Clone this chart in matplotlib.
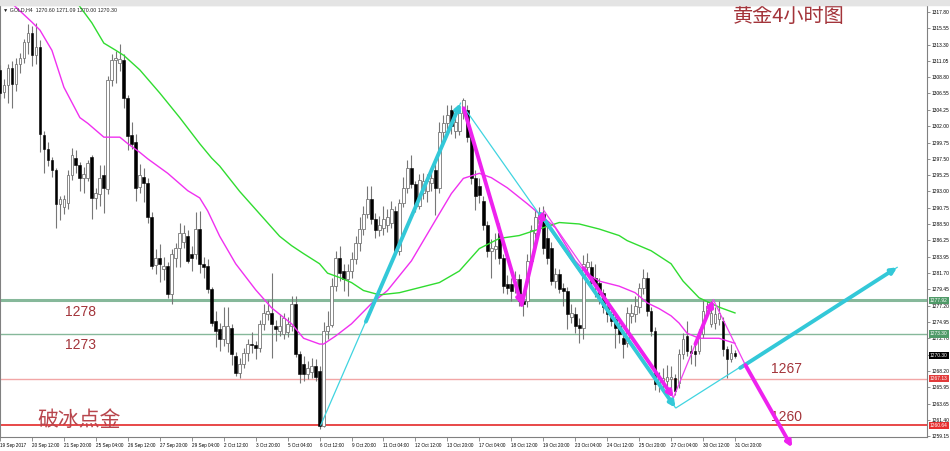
import numpy as np
import matplotlib
matplotlib.use("Agg")
import matplotlib.pyplot as plt
from matplotlib.transforms import blended_transform_factory

# GOLD H4 candles (open, high, low, close)
opens = [1309.8, 1306.7, 1307.7, 1310.1, 1307.9, 1310.6, 1311.5, 1313.6, 1314.9, 1311.8,
         1312.9, 1300.8, 1298.9, 1297.3, 1295.9, 1291.3, 1290.8, 1291.4, 1295.2, 1297.6,
         1296.6, 1294.8, 1294.9, 1297.7, 1292.1, 1292.7, 1295.2, 1293.4, 1308.4, 1311.1,
         1310.7, 1311.2, 1305.9, 1300.8, 1299.8, 1293.6, 1295.0, 1294.1, 1289.4, 1282.8,
         1283.8, 1282.3, 1282.7, 1278.8, 1283.8, 1285.2, 1286.0, 1286.9, 1284.4, 1284.4,
         1287.8, 1282.9, 1282.7, 1279.5, 1275.1, 1274.0, 1272.6, 1272.0, 1274.1, 1270.2,
         1267.9, 1269.1, 1270.6, 1271.9, 1271.8, 1271.3, 1274.7, 1276.1, 1276.2, 1274.4,
         1273.7, 1273.3, 1273.6, 1274.4, 1277.5, 1270.5, 1269.1, 1267.8, 1268.0, 1268.8,
         1268.2, 1260.6, 1273.7, 1274.6, 1279.9, 1283.8, 1282.0, 1280.9, 1282.0, 1283.7,
         1285.8, 1287.8, 1289.9, 1292.0, 1289.2, 1287.6, 1288.0, 1288.4, 1288.6, 1290.3,
         1284.8, 1291.4, 1293.5, 1296.3, 1294.0, 1291.0, 1292.8, 1293.1, 1294.1, 1295.9,
         1293.5, 1301.2, 1302.4, 1304.2, 1301.4, 1301.4, 1303.8, 1304.2, 1300.5, 1294.9,
         1293.8, 1291.7, 1288.3, 1284.8, 1285.0, 1287.2, 1283.8, 1280.2, 1280.2, 1280.2,
         1280.9, 1277.9, 1277.8, 1283.4, 1287.2, 1288.6, 1289.9, 1286.5, 1285.2, 1280.6,
         1281.6, 1279.6, 1279.2, 1275.6, 1276.1, 1274.6, 1274.1, 1282.6, 1282.6, 1281.0,
         1280.4, 1279.0, 1277.0, 1276.1, 1275.4, 1274.4, 1272.7, 1272.0, 1275.8, 1276.1,
         1277.0, 1279.6, 1281.0, 1276.5, 1273.7, 1266.5, 1266.8, 1266.8, 1267.0, 1267.2,
         1266.5, 1270.5, 1273.0, 1271.0, 1271.0, 1271.0, 1273.3, 1276.1, 1274.7, 1274.8,
         1275.4, 1275.1, 1271.2, 1269.8, 1270.6]
highs = [1310.5, 1308.6, 1310.6, 1311.0, 1311.4, 1312.2, 1314.1, 1316.1, 1315.8, 1316.3,
         1314.0, 1301.4, 1299.8, 1297.8, 1296.3, 1292.4, 1292.5, 1296.0, 1299.0, 1298.7,
         1297.0, 1296.4, 1297.3, 1298.0, 1293.5, 1296.6, 1296.6, 1309.0, 1312.0, 1312.4,
         1313.4, 1312.0, 1306.3, 1302.6, 1301.0, 1296.8, 1296.3, 1294.8, 1290.2, 1285.0,
         1285.7, 1284.0, 1283.2, 1285.1, 1285.8, 1288.7, 1288.3, 1287.6, 1285.5, 1290.1,
         1290.3, 1284.0, 1283.6, 1279.8, 1276.5, 1274.8, 1277.0, 1277.0, 1274.7, 1270.8,
         1270.0, 1271.4, 1272.6, 1273.5, 1272.3, 1275.2, 1277.5, 1278.0, 1281.7, 1275.2,
         1276.0, 1276.2, 1275.6, 1278.6, 1278.6, 1271.0, 1270.2, 1269.5, 1270.0, 1269.8,
         1268.8, 1275.0, 1276.5, 1281.0, 1284.8, 1285.5, 1282.9, 1283.0, 1284.6, 1286.8,
         1289.4, 1291.0, 1293.8, 1293.8, 1290.0, 1289.6, 1291.0, 1290.5, 1291.7, 1291.0,
         1292.0, 1295.0, 1297.3, 1298.0, 1294.5, 1295.4, 1295.5, 1295.4, 1296.0, 1297.0,
         1302.6, 1303.5, 1304.9, 1305.0, 1303.5, 1304.4, 1305.9, 1305.0, 1301.0, 1296.0,
         1294.8, 1292.4, 1288.9, 1286.4, 1287.2, 1288.7, 1284.4, 1281.5, 1281.0, 1282.0,
         1281.6, 1278.6, 1284.4, 1288.4, 1290.4, 1290.8, 1291.0, 1288.2, 1286.0, 1282.4,
         1282.3, 1280.3, 1279.8, 1277.5, 1277.0, 1275.5, 1284.2, 1284.5, 1283.4, 1283.0,
         1281.0, 1279.5, 1277.5, 1276.5, 1276.0, 1275.2, 1273.5, 1277.0, 1277.4, 1278.6,
         1280.4, 1282.3, 1281.8, 1277.0, 1274.2, 1268.0, 1268.6, 1269.0, 1268.8, 1267.8,
         1271.2, 1273.4, 1275.1, 1271.8, 1272.4, 1274.0, 1278.0, 1277.9, 1277.9, 1277.0,
         1277.9, 1275.6, 1271.6, 1271.9, 1271.09]
lows = [1305.8, 1305.9, 1305.2, 1304.6, 1306.9, 1309.4, 1310.8, 1312.0, 1310.3, 1310.6,
        1298.4, 1295.6, 1296.5, 1295.0, 1288.0, 1289.0, 1289.9, 1290.6, 1294.6, 1295.5,
        1293.1, 1292.8, 1294.5, 1289.2, 1290.6, 1291.0, 1290.0, 1292.6, 1307.6, 1308.0,
        1309.6, 1304.6, 1298.7, 1298.9, 1291.7, 1292.8, 1291.5, 1288.7, 1282.3, 1281.6,
        1280.5, 1280.8, 1278.3, 1277.5, 1282.5, 1282.5, 1285.2, 1283.1, 1282.0, 1283.7,
        1281.7, 1281.0, 1279.0, 1274.4, 1271.5, 1271.0, 1271.6, 1270.8, 1269.0, 1267.5,
        1267.2, 1268.6, 1269.6, 1270.6, 1269.8, 1270.8, 1273.9, 1275.2, 1270.0, 1272.3,
        1273.0, 1272.6, 1272.9, 1273.7, 1270.1, 1266.5, 1266.8, 1267.0, 1267.2, 1266.8,
        1260.2, 1260.4, 1272.6, 1274.2, 1279.2, 1280.6, 1279.2, 1278.6, 1281.0, 1283.0,
        1284.8, 1287.0, 1289.3, 1288.5, 1286.6, 1286.8, 1287.0, 1287.4, 1287.9, 1284.3,
        1284.2, 1290.8, 1292.8, 1293.5, 1290.2, 1290.5, 1292.0, 1291.6, 1293.0, 1289.8,
        1292.8, 1300.0, 1301.6, 1301.0, 1300.4, 1300.8, 1303.0, 1299.8, 1294.0, 1290.4,
        1291.4, 1287.6, 1284.0, 1281.0, 1283.6, 1283.0, 1279.0, 1278.8, 1277.8, 1279.0,
        1277.2, 1275.8, 1277.0, 1282.8, 1286.5, 1287.4, 1284.4, 1283.0, 1280.0, 1279.6,
        1279.0, 1277.2, 1274.0, 1274.8, 1273.4, 1272.0, 1272.6, 1281.8, 1279.6, 1278.4,
        1277.5, 1276.2, 1275.0, 1274.4, 1271.4, 1272.0, 1270.0, 1271.5, 1274.8, 1275.0,
        1276.2, 1278.8, 1275.8, 1273.0, 1265.5, 1265.3, 1265.8, 1265.4, 1265.2, 1264.9,
        1265.8, 1269.8, 1270.2, 1269.2, 1268.9, 1270.5, 1272.8, 1275.6, 1274.2, 1274.0,
        1274.6, 1270.3, 1267.2, 1269.4, 1270.0]
closes = [1306.6, 1307.7, 1310.0, 1307.8, 1310.6, 1311.5, 1313.6, 1314.9, 1311.8, 1312.9,
          1301.0, 1298.9, 1297.3, 1295.9, 1291.3, 1291.9, 1292.0, 1295.2, 1298.0, 1296.6,
          1294.9, 1295.4, 1296.9, 1292.1, 1292.8, 1294.9, 1293.5, 1308.4, 1311.1, 1311.5,
          1311.3, 1305.9, 1300.7, 1299.6, 1293.5, 1295.2, 1294.1, 1289.4, 1282.7, 1283.8,
          1283.0, 1282.7, 1278.8, 1284.4, 1285.2, 1287.3, 1287.2, 1283.4, 1283.8, 1287.8,
          1282.9, 1282.6, 1279.5, 1274.8, 1273.7, 1272.6, 1274.4, 1274.4, 1270.5, 1267.9,
          1269.1, 1270.6, 1271.9, 1271.7, 1271.3, 1274.7, 1276.2, 1276.4, 1274.7, 1274.0,
          1274.4, 1275.5, 1274.7, 1277.5, 1270.5, 1267.8, 1267.8, 1268.6, 1268.9, 1267.3,
          1260.6, 1273.7, 1274.4, 1279.9, 1283.8, 1281.7, 1280.9, 1282.0, 1283.7, 1285.8,
          1287.8, 1289.9, 1292.0, 1289.2, 1287.6, 1288.3, 1289.2, 1289.5, 1290.6, 1284.8,
          1291.4, 1293.5, 1296.2, 1294.0, 1291.0, 1294.6, 1294.5, 1294.5, 1294.8, 1293.5,
          1301.2, 1302.4, 1303.5, 1302.1, 1302.6, 1303.8, 1305.6, 1300.5, 1294.9, 1292.4,
          1292.5, 1288.3, 1284.8, 1285.2, 1285.5, 1283.8, 1279.9, 1279.7, 1279.3, 1280.9,
          1277.9, 1277.5, 1283.4, 1287.6, 1289.4, 1289.9, 1285.2, 1283.8, 1280.6, 1281.6,
          1279.5, 1279.2, 1276.0, 1276.2, 1274.4, 1274.1, 1283.0, 1283.2, 1280.4, 1280.0,
          1278.8, 1277.0, 1276.1, 1275.1, 1274.1, 1273.3, 1271.9, 1276.2, 1276.2, 1277.2,
          1279.6, 1281.0, 1276.5, 1273.7, 1266.4, 1267.2, 1267.2, 1267.4, 1267.4, 1265.4,
          1270.5, 1272.6, 1271.0, 1270.7, 1270.5, 1273.3, 1276.5, 1277.2, 1276.2, 1276.1,
          1276.2, 1271.2, 1269.8, 1270.6, 1270.3]

# moving averages sampled along the curves (bar index, price)
fast_ma_bar = [2, 8, 10, 13, 16, 20, 22, 26, 30, 32, 35, 37, 42, 47, 50, 52, 55, 59, 64, 68,
               73, 76, 80, 81, 84, 88, 93, 97, 103, 109, 113, 116, 120, 123, 127, 132, 135,
               139, 144, 147, 150, 155, 159, 162, 165, 168, 170, 172, 175, 180, 184]
fast_ma_val = [1319.5, 1316.4, 1315.3, 1312.5, 1307.4, 1303.2, 1302.4, 1300.5, 1300.5, 1299.6,
               1298.4, 1297.5, 1295.5, 1293.1, 1292.1, 1290.3, 1286.8, 1283.0, 1279.4, 1276.9,
               1274.7, 1272.7, 1271.9, 1271.9, 1273.0, 1274.7, 1277.5, 1279.3, 1283.4, 1289.0,
               1292.7, 1294.8, 1295.5, 1294.9, 1293.5, 1291.3, 1289.9, 1288.0, 1283.4, 1281.6,
               1280.6, 1279.9, 1279.0, 1277.6, 1276.8, 1275.8, 1274.8, 1273.4, 1272.7, 1272.7,
               1272.0]
slow_ma_bar = [19, 23, 26, 29, 31, 35, 40, 45, 50, 53, 55, 60, 65, 70, 73, 76, 80, 82, 85, 88,
               91, 95, 100, 105, 110, 115, 120, 125, 130, 135, 140, 145, 150, 155, 157, 163,
               168, 171, 175, 180, 184]
slow_ma_val = [1319.3, 1316.3, 1313.5, 1312.5, 1311.8, 1309.8, 1306.6, 1303.2, 1299.6, 1297.6,
               1296.5, 1293.0, 1289.9, 1286.8, 1285.5, 1284.4, 1283.0, 1281.7, 1281.1, 1280.4,
               1279.3, 1278.7, 1279.0, 1279.7, 1280.4, 1282.0, 1285.1, 1286.5, 1286.9, 1287.8,
               1288.7, 1288.5, 1287.8, 1286.9, 1286.2, 1284.8, 1283.0, 1280.6, 1278.3, 1277.0,
               1276.2]

# hand-drawn trend lines (bar index, price)
cyan_thin = [([80.3, 115.3], [1260.7, 1305.2]),
             ([116.3, 169.1], [1304.5, 1263.1]),
             ([169.3, 224.6], [1263.1, 1282.5])]
cyan_thick = [([91.6, 115.3], [1275.0, 1305.2]),
              ([135.3, 169.1], [1289.9, 1263.1]),
              ([185.3, 224.6], [1268.6, 1282.5])]
magenta_thin = [([136.1, 168.6], [1290.4, 1264.5]),
                ([168.6, 178.6], [1264.5, 1278.0]),
                ([178.6, 186.6], [1278.0, 1269.0])]
magenta_thick = [([116.1, 130.6], [1304.5, 1277.3]),
                 ([130.6, 136.1], [1277.3, 1290.4]),
                 ([146.1, 168.6], [1282.4, 1264.5]),
                 ([174.1, 178.6], [1271.9, 1278.0]),
                 ([186.6, 198.3], [1269.0, 1257.6])]

# horizontal levels
level_prices = [1277.92, 1273.30, 1267.13, 1260.64]
level_labels = ["1277.92", "1273.30", "1267.13", "1260.64"]
last_price = 1270.30

price_ticks = [1317.80, 1315.55, 1313.30, 1311.05, 1308.80, 1306.55, 1304.25, 1302.00,
               1299.75, 1297.50, 1295.25, 1293.00, 1290.75, 1288.50, 1286.25, 1283.95,
               1281.70, 1279.45, 1277.20, 1274.95, 1272.70, 1270.40, 1268.20, 1265.95,
               1263.65, 1261.40, 1259.15]
date_labels = ["19 Sep 2017", "20 Sep 12:00", "21 Sep 20:00", "25 Sep 04:00", "26 Sep 12:00",
               "27 Sep 20:00", "29 Sep 04:00", "2 Oct 12:00", "3 Oct 20:00", "5 Oct 04:00",
               "6 Oct 12:00", "9 Oct 20:00", "11 Oct 04:00", "12 Oct 12:00", "13 Oct 20:00",
               "17 Oct 04:00", "18 Oct 12:00", "19 Oct 20:00", "23 Oct 04:00", "24 Oct 12:00",
               "25 Oct 20:00", "27 Oct 04:00", "30 Oct 12:00", "31 Oct 20:00"]

plt.rcParams["font.family"] = ["Liberation Sans", "DejaVu Sans"]
cjk = ["Noto Sans CJK SC", "DejaVu Sans"]

fig = plt.figure(figsize=(9.5, 4.51), dpi=100)
fig.patches.append(plt.Rectangle((0, 446 / 451), 1, 5 / 451, transform=fig.transFigure,
                                 color="#e4e4e4", zorder=0))
ax = fig.add_axes([0, 14 / 451, 927 / 950, 432 / 451])

o = np.array(opens)
h = np.array(highs)
l = np.array(lows)
c = np.array(closes)
idx = np.arange(len(o))
up = c >= o

ax.vlines(idx, l, h, color="#777777", lw=0.8, zorder=3)
ax.bar(idx[up], np.maximum(c[up] - o[up], 0.05), bottom=o[up], width=0.7,
       color="white", edgecolor="#777777", lw=0.6, zorder=4)
ax.bar(idx[~up], o[~up] - c[~up], bottom=c[~up], width=0.7,
       color="black", edgecolor="black", lw=0.4, zorder=4)

ax.plot(fast_ma_bar, fast_ma_val, color="#f030f0", lw=1, zorder=5)
ax.plot(slow_ma_bar, slow_ma_val, color="#30dc30", lw=1, zorder=5)

ax.axhline(level_prices[0], color="#86b89a", lw=2.2, zorder=2)
ax.axhline(level_prices[1], color="#86b89a", lw=1, zorder=2)
ax.axhline(level_prices[2], color="#f2a6a6", lw=1, zorder=2)
ax.axhline(level_prices[3], color="#e84848", lw=1.4, zorder=2)

for xs, ys in cyan_thin:
    ax.plot(xs, ys, color="#40d4e0", lw=0.9, zorder=6)
for xs, ys in magenta_thin:
    ax.plot(xs, ys, color="#f040f0", lw=0.9, zorder=6)
for xs, ys in cyan_thick:
    ax.annotate("", xy=(xs[1], ys[1]), xytext=(xs[0], ys[0]), annotation_clip=False,
                arrowprops=dict(arrowstyle="-|>", color="#33c8d8", lw=2.8, mutation_scale=8,
                                shrinkA=0, shrinkB=0), zorder=7)
for xs, ys in magenta_thick:
    ax.annotate("", xy=(xs[1], ys[1]), xytext=(xs[0], ys[0]), annotation_clip=False,
                arrowprops=dict(arrowstyle="-|>", color="#ee22ee", lw=2.8, mutation_scale=8,
                                shrinkA=0, shrinkB=0), zorder=7)

ax.set_xlim(0.325, 232.07)
ax.set_ylim(1259.05, 1318.77)

ax.yaxis.tick_right()
ax.set_yticks(price_ticks)
ax.set_yticklabels([f"{v:.2f}" for v in price_ticks])
ax.tick_params(axis="y", length=2, width=0.5, color="#666666", pad=1, labelsize=3.5)
ax.set_xticks(range(0, 8 * len(date_labels), 8))
ax.set_xticklabels(date_labels, ha="left")
ax.tick_params(axis="x", length=3, width=0.5, color="#666666", pad=1.5, labelsize=3.3)
for s in ax.spines.values():
    s.set_color("#808080")
    s.set_linewidth(0.8)
ax.spines["top"].set_linewidth(1.5)

tr = blended_transform_factory(ax.transAxes, ax.transData)
box_colors = ["#4f9a68", "#4f9a68", "#e23a3a", "#e62e2e"]
for p, lab, col in zip(level_prices, level_labels, box_colors):
    ax.text(1.003, p, lab, transform=tr, ha="left", va="center", fontsize=3.5, color="white",
            bbox=dict(boxstyle="square,pad=0.25", fc=col, ec="none"), clip_on=False, zorder=8)
ax.text(1.003, last_price, f"{last_price:.2f}", transform=tr, ha="left", va="center",
        fontsize=3.5, color="white", bbox=dict(boxstyle="square,pad=0.25", fc="black", ec="none"),
        clip_on=False, zorder=8)

red = "#a3343a"
ax.text(0.0863, 0.289, "1278", transform=ax.transAxes, ha="center", va="center",
        fontsize=10, color=red)
ax.text(0.0863, 0.213, "1273", transform=ax.transAxes, ha="center", va="center",
        fontsize=10, color=red)
ax.text(0.848, 0.157, "1267", transform=ax.transAxes, ha="center", va="center",
        fontsize=10, color=red)
ax.text(0.848, 0.046, "1260", transform=ax.transAxes, ha="center", va="center",
        fontsize=10, color=red)
ax.text(0.0852, 0.04, "破冰点金", transform=ax.transAxes, ha="center", va="center",
        fontsize=15, color="#b8454c", family=cjk, zorder=9)
ax.text(0.851, 0.973, "黄金4小时图", transform=ax.transAxes, ha="center", va="center",
        fontsize=14.5, color=red, family=cjk, zorder=9)

fig.text(0.003, 1 - 10 / 451, "▼ GOLD,H4  1270.60 1271.09 1270.00 1270.30", fontsize=3.8,
         va="center", color="#222222")

fig.savefig("out.png", dpi=100)
